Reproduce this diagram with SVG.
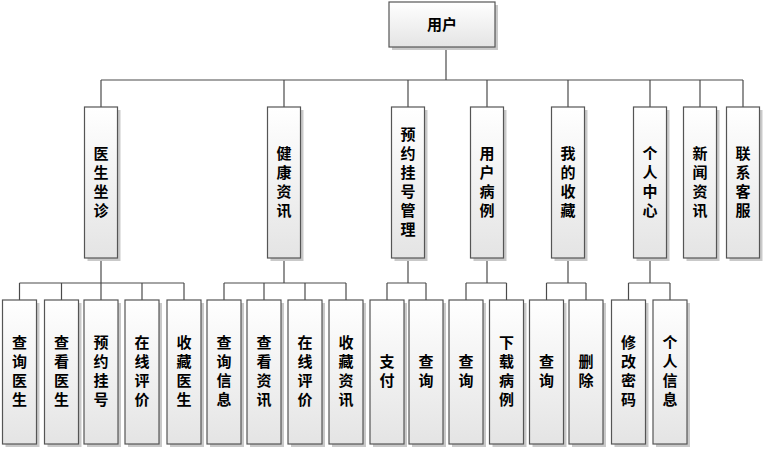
<svg xmlns="http://www.w3.org/2000/svg" width="763" height="449" viewBox="0 0 763 449">
<defs>
<linearGradient id="g" x1="0" y1="0" x2="0" y2="1">
<stop offset="0" stop-color="#ffffff"/>
<stop offset="1" stop-color="#e4e4e4"/>
</linearGradient>
<style>
.bx{fill:url(#g);stroke:#555;stroke-width:1.2}
.sh{fill:#c9c9c9}
.t{font-family:"Noto Sans CJK SC","Noto Sans CJK JP",sans-serif;font-size:15px;font-weight:bold;fill:#000;text-anchor:middle}
.c line{stroke:#4a4a4a;stroke-width:1.2}
</style>
</defs>
<rect width="763" height="449" fill="#fff"/>
<g class="c" id="connectors">
<line x1="446" y1="47" x2="446" y2="80"/>
<line x1="101" y1="80" x2="743" y2="80"/>
<line x1="101" y1="80" x2="101" y2="107"/>
<line x1="284" y1="80" x2="284" y2="107"/>
<line x1="408" y1="80" x2="408" y2="107"/>
<line x1="487" y1="80" x2="487" y2="107"/>
<line x1="568" y1="80" x2="568" y2="107"/>
<line x1="650" y1="80" x2="650" y2="107"/>
<line x1="700" y1="80" x2="700" y2="107"/>
<line x1="743" y1="80" x2="743" y2="107"/>
<line x1="101" y1="258" x2="101" y2="283"/>
<line x1="284" y1="258" x2="284" y2="283"/>
<line x1="408" y1="258" x2="408" y2="283"/>
<line x1="487" y1="258" x2="487" y2="283"/>
<line x1="568" y1="258" x2="568" y2="283"/>
<line x1="650" y1="258" x2="650" y2="283"/>
<line x1="19.5" y1="283" x2="184" y2="283"/>
<line x1="224" y1="283" x2="346" y2="283"/>
<line x1="387" y1="283" x2="426" y2="283"/>
<line x1="466" y1="283" x2="506.5" y2="283"/>
<line x1="546.5" y1="283" x2="586" y2="283"/>
<line x1="628.5" y1="283" x2="670" y2="283"/>
<line x1="19.5" y1="283" x2="19.5" y2="300"/>
<line x1="61.5" y1="283" x2="61.5" y2="300"/>
<line x1="101" y1="283" x2="101" y2="300"/>
<line x1="142" y1="283" x2="142" y2="300"/>
<line x1="184" y1="283" x2="184" y2="300"/>
<line x1="224" y1="283" x2="224" y2="300"/>
<line x1="264" y1="283" x2="264" y2="300"/>
<line x1="305" y1="283" x2="305" y2="300"/>
<line x1="346" y1="283" x2="346" y2="300"/>
<line x1="387" y1="283" x2="387" y2="300"/>
<line x1="426" y1="283" x2="426" y2="300"/>
<line x1="466" y1="283" x2="466" y2="300"/>
<line x1="506.5" y1="283" x2="506.5" y2="300"/>
<line x1="546.5" y1="283" x2="546.5" y2="300"/>
<line x1="586" y1="283" x2="586" y2="300"/>
<line x1="628.5" y1="283" x2="628.5" y2="300"/>
<line x1="670" y1="283" x2="670" y2="300"/>
</g>

<g id="root">
<rect class="sh" x="392" y="5" width="106" height="45"/>
<rect class="bx" x="389" y="2" width="106" height="45"/>
<text class="t" x="442" y="30">用户</text>
</g>

<g id="l1-doctor">
<rect class="sh" x="87.5" y="110" width="33" height="151"/>
<rect class="bx" x="84.5" y="107" width="33" height="151"/>
<text class="t"><tspan x="101" y="159">医</tspan><tspan x="101" y="178">生</tspan><tspan x="101" y="197">坐</tspan><tspan x="101" y="216">诊</tspan></text>
</g>
<g id="l1-health">
<rect class="sh" x="270.5" y="110" width="33" height="151"/>
<rect class="bx" x="267.5" y="107" width="33" height="151"/>
<text class="t"><tspan x="284" y="159">健</tspan><tspan x="284" y="178">康</tspan><tspan x="284" y="197">资</tspan><tspan x="284" y="216">讯</tspan></text>
</g>
<g id="l1-booking">
<rect class="sh" x="394.5" y="110" width="33" height="151"/>
<rect class="bx" x="391.5" y="107" width="33" height="151"/>
<text class="t"><tspan x="408" y="140">预</tspan><tspan x="408" y="159">约</tspan><tspan x="408" y="178">挂</tspan><tspan x="408" y="197">号</tspan><tspan x="408" y="216">管</tspan><tspan x="408" y="235">理</tspan></text>
</g>
<g id="l1-records">
<rect class="sh" x="473.5" y="110" width="33" height="151"/>
<rect class="bx" x="470.5" y="107" width="33" height="151"/>
<text class="t"><tspan x="487" y="159">用</tspan><tspan x="487" y="178">户</tspan><tspan x="487" y="197">病</tspan><tspan x="487" y="216">例</tspan></text>
</g>
<g id="l1-favorites">
<rect class="sh" x="554.5" y="110" width="33" height="151"/>
<rect class="bx" x="551.5" y="107" width="33" height="151"/>
<text class="t"><tspan x="568" y="159">我</tspan><tspan x="568" y="178">的</tspan><tspan x="568" y="197">收</tspan><tspan x="568" y="216">藏</tspan></text>
</g>
<g id="l1-personal">
<rect class="sh" x="636.5" y="110" width="33" height="151"/>
<rect class="bx" x="633.5" y="107" width="33" height="151"/>
<text class="t"><tspan x="650" y="159">个</tspan><tspan x="650" y="178">人</tspan><tspan x="650" y="197">中</tspan><tspan x="650" y="216">心</tspan></text>
</g>
<g id="l1-news">
<rect class="sh" x="686.5" y="110" width="33" height="151"/>
<rect class="bx" x="683.5" y="107" width="33" height="151"/>
<text class="t"><tspan x="700" y="159">新</tspan><tspan x="700" y="178">闻</tspan><tspan x="700" y="197">资</tspan><tspan x="700" y="216">讯</tspan></text>
</g>
<g id="l1-service">
<rect class="sh" x="729.5" y="110" width="33" height="151"/>
<rect class="bx" x="726.5" y="107" width="33" height="151"/>
<text class="t"><tspan x="743" y="159">联</tspan><tspan x="743" y="178">系</tspan><tspan x="743" y="197">客</tspan><tspan x="743" y="216">服</tspan></text>
</g>

<g id="c-query-doctor">
<rect class="sh" x="5.5" y="303" width="34" height="144"/>
<rect class="bx" x="2.5" y="300" width="34" height="144"/>
<text class="t"><tspan x="19.5" y="348">查</tspan><tspan x="19.5" y="367">询</tspan><tspan x="19.5" y="386">医</tspan><tspan x="19.5" y="405">生</tspan></text>
</g>
<g id="c-view-doctor">
<rect class="sh" x="47.5" y="303" width="34" height="144"/>
<rect class="bx" x="44.5" y="300" width="34" height="144"/>
<text class="t"><tspan x="61.5" y="348">查</tspan><tspan x="61.5" y="367">看</tspan><tspan x="61.5" y="386">医</tspan><tspan x="61.5" y="405">生</tspan></text>
</g>
<g id="c-book">
<rect class="sh" x="87" y="303" width="34" height="144"/>
<rect class="bx" x="84" y="300" width="34" height="144"/>
<text class="t"><tspan x="101" y="348">预</tspan><tspan x="101" y="367">约</tspan><tspan x="101" y="386">挂</tspan><tspan x="101" y="405">号</tspan></text>
</g>
<g id="c-review-doctor">
<rect class="sh" x="128" y="303" width="34" height="144"/>
<rect class="bx" x="125" y="300" width="34" height="144"/>
<text class="t"><tspan x="142" y="348">在</tspan><tspan x="142" y="367">线</tspan><tspan x="142" y="386">评</tspan><tspan x="142" y="405">价</tspan></text>
</g>
<g id="c-fav-doctor">
<rect class="sh" x="170" y="303" width="34" height="144"/>
<rect class="bx" x="167" y="300" width="34" height="144"/>
<text class="t"><tspan x="184" y="348">收</tspan><tspan x="184" y="367">藏</tspan><tspan x="184" y="386">医</tspan><tspan x="184" y="405">生</tspan></text>
</g>
<g id="c-query-info">
<rect class="sh" x="210" y="303" width="34" height="144"/>
<rect class="bx" x="207" y="300" width="34" height="144"/>
<text class="t"><tspan x="224" y="348">查</tspan><tspan x="224" y="367">询</tspan><tspan x="224" y="386">信</tspan><tspan x="224" y="405">息</tspan></text>
</g>
<g id="c-view-news">
<rect class="sh" x="250" y="303" width="34" height="144"/>
<rect class="bx" x="247" y="300" width="34" height="144"/>
<text class="t"><tspan x="264" y="348">查</tspan><tspan x="264" y="367">看</tspan><tspan x="264" y="386">资</tspan><tspan x="264" y="405">讯</tspan></text>
</g>
<g id="c-review-news">
<rect class="sh" x="291" y="303" width="34" height="144"/>
<rect class="bx" x="288" y="300" width="34" height="144"/>
<text class="t"><tspan x="305" y="348">在</tspan><tspan x="305" y="367">线</tspan><tspan x="305" y="386">评</tspan><tspan x="305" y="405">价</tspan></text>
</g>
<g id="c-fav-news">
<rect class="sh" x="332" y="303" width="34" height="144"/>
<rect class="bx" x="329" y="300" width="34" height="144"/>
<text class="t"><tspan x="346" y="348">收</tspan><tspan x="346" y="367">藏</tspan><tspan x="346" y="386">资</tspan><tspan x="346" y="405">讯</tspan></text>
</g>
<g id="c-pay">
<rect class="sh" x="373" y="303" width="34" height="144"/>
<rect class="bx" x="370" y="300" width="34" height="144"/>
<text class="t"><tspan x="387" y="367">支</tspan><tspan x="387" y="386">付</tspan></text>
</g>
<g id="c-query-booking">
<rect class="sh" x="412" y="303" width="34" height="144"/>
<rect class="bx" x="409" y="300" width="34" height="144"/>
<text class="t"><tspan x="426" y="367">查</tspan><tspan x="426" y="386">询</tspan></text>
</g>
<g id="c-query-records">
<rect class="sh" x="452" y="303" width="34" height="144"/>
<rect class="bx" x="449" y="300" width="34" height="144"/>
<text class="t"><tspan x="466" y="367">查</tspan><tspan x="466" y="386">询</tspan></text>
</g>
<g id="c-download">
<rect class="sh" x="492.5" y="303" width="34" height="144"/>
<rect class="bx" x="489.5" y="300" width="34" height="144"/>
<text class="t"><tspan x="506.5" y="348">下</tspan><tspan x="506.5" y="367">载</tspan><tspan x="506.5" y="386">病</tspan><tspan x="506.5" y="405">例</tspan></text>
</g>
<g id="c-query-fav">
<rect class="sh" x="532.5" y="303" width="34" height="144"/>
<rect class="bx" x="529.5" y="300" width="34" height="144"/>
<text class="t"><tspan x="546.5" y="367">查</tspan><tspan x="546.5" y="386">询</tspan></text>
</g>
<g id="c-delete">
<rect class="sh" x="572" y="303" width="34" height="144"/>
<rect class="bx" x="569" y="300" width="34" height="144"/>
<text class="t"><tspan x="586" y="367">删</tspan><tspan x="586" y="386">除</tspan></text>
</g>
<g id="c-password">
<rect class="sh" x="614.5" y="303" width="34" height="144"/>
<rect class="bx" x="611.5" y="300" width="34" height="144"/>
<text class="t"><tspan x="628.5" y="348">修</tspan><tspan x="628.5" y="367">改</tspan><tspan x="628.5" y="386">密</tspan><tspan x="628.5" y="405">码</tspan></text>
</g>
<g id="c-profile">
<rect class="sh" x="656" y="303" width="34" height="144"/>
<rect class="bx" x="653" y="300" width="34" height="144"/>
<text class="t"><tspan x="670" y="348">个</tspan><tspan x="670" y="367">人</tspan><tspan x="670" y="386">信</tspan><tspan x="670" y="405">息</tspan></text>
</g>
</svg>
